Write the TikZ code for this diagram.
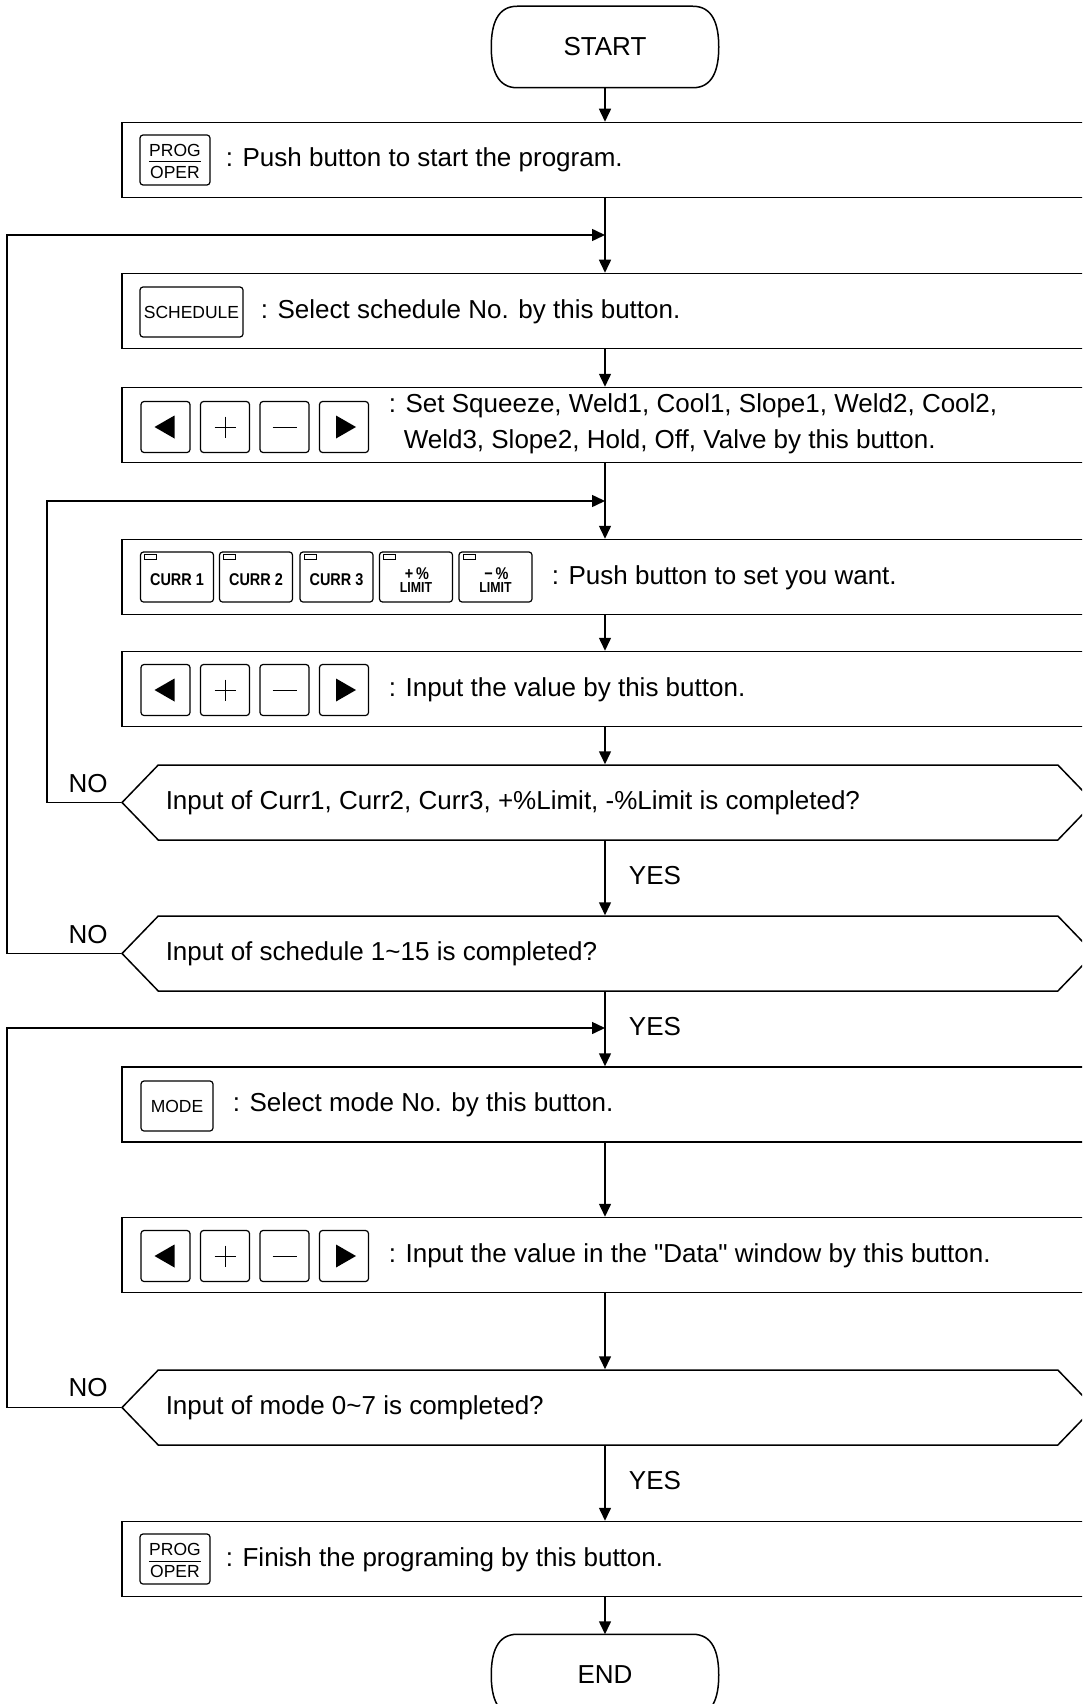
\documentclass[tikz,border=0pt]{standalone}
\usepackage{fontspec}
\setmainfont{Liberation Sans}[Ligatures=TeXOff]
\newfontfamily\narrowfont[FakeStretch=0.85]{Liberation Sans}
\usetikzlibrary{arrows.meta,shapes.symbols,calc}
\newcommand\ArrowKeys[2]{%
  \node[kbtn] (#1a) at (165.5,#2) {};
  \node[kbtn] (#1b) at (225,#2) {};
  \node[kbtn] (#1c) at (284.5,#2) {};
  \node[kbtn] (#1d) at (344,#2) {};
  \fill ([shift={(-11,0)}]#1a.center) -- ([shift={(9,-11.5)}]#1a.center) -- ([shift={(9,11.5)}]#1a.center) -- cycle;
  \draw[thinline] ([shift={(-10.5,0)}]#1b.center) -- ([shift={(10.5,0)}]#1b.center);
  \draw[thinline] ([shift={(0,-10.5)}]#1b.center) -- ([shift={(0,10.5)}]#1b.center);
  \draw[thinline] ([shift={(-12,0)}]#1c.center) -- ([shift={(12,0)}]#1c.center);
  \fill ([shift={(12,0)}]#1d.center) -- ([shift={(-8,-11.5)}]#1d.center) -- ([shift={(-8,11.5)}]#1d.center) -- cycle;
}
\newcommand\ProgKey[2]{%
  \node[btn, minimum width=70pt, minimum height=50pt] (#1) at (175,#2) {};
  \node[keyfont] (#1t) at ([shift={(0,-10)}]#1.center) {PROG};
  \node[keyfont] (#1b) at ([shift={(0,12.5)}]#1.center) {OPER};
  \draw[thinline] ([shift={(-26,2)}]#1.center) -- ([shift={(26,2)}]#1.center);
}
\newcommand\CurrKey[2]{%
  \node[btn, minimum width=73pt, minimum height=50pt] (#1) at (#2,577) {};
  \draw[line width=1pt] ([shift={(5,3)}]#1.north west) rectangle ([shift={(17,8)}]#1.north west);
}
\newcommand\Terminal[1]{%
  \draw (#1.north west) ++(26,0) -- ([shift={(-26,0)}]#1.north east)
    .. controls ([shift={(-6,0)}]#1.north east) and ([shift={(0,18)}]#1.north east) .. (#1.east)
    .. controls ([shift={(0,-18)}]#1.south east) and ([shift={(-6,0)}]#1.south east) .. ([shift={(-26,0)}]#1.south east)
    -- ([shift={(26,0)}]#1.south west)
    .. controls ([shift={(6,0)}]#1.south west) and ([shift={(0,-18)}]#1.south west) .. (#1.west)
    .. controls ([shift={(0,18)}]#1.north west) and ([shift={(6,0)}]#1.north west) .. ([shift={(26,0)}]#1.north west);
}
\begin{document}
\begin{tikzpicture}[x=1pt,y=-1pt,line width=1.5pt,
  box/.style={draw, rectangle, minimum width=1000pt, minimum height=75pt, anchor=west, inner sep=0pt},
  hex/.style={draw, signal, signal to=west and east, signal pointer angle=92, minimum width=972pt, minimum height=75pt, anchor=west, inner sep=0pt},
  term/.style={rectangle, minimum width=226pt, minimum height=80pt, inner sep=0pt, font=\fontsize{26}{31}\selectfont},
  txt/.style={anchor=west, inner sep=0pt, font=\fontsize{26}{31}\selectfont, text height=19pt, text depth=5pt},
  lbl/.style={inner sep=0pt, font=\fontsize{26}{31}\selectfont},
  arr/.style={-{Triangle[length=13pt,width=12pt]}},
  btn/.style={draw, rounded corners=3pt, line width=1.2pt, inner sep=0pt},
  kbtn/.style={btn, minimum width=49pt, minimum height=51pt},
  keyfont/.style={inner sep=0pt, font=\fontsize{17.5}{20}\selectfont},
  currfont/.style={inner sep=0pt, font=\narrowfont\bfseries\fontsize{17}{20}\selectfont},
  limfont/.style={inner sep=0pt, text height=10pt, text depth=0pt, font=\narrowfont\bfseries\fontsize{14.5}{17}\selectfont},
  pctfont/.style={inner sep=0pt, text height=10pt, text depth=0pt, font=\narrowfont\bfseries\fontsize{17}{20}\selectfont},
  thinline/.style={line width=1pt}]
\useasboundingbox (0,0) rectangle (1082,1704);
\clip (0,0) rectangle (1082,1704);
\coordinate (axis) at (605,0);

% terminals
\node[term] (start) at (605,47) {START};
\Terminal{start}
\node[term] (end) at (605,1675) {END};
\Terminal{end}

% box 1
\node[box] (b1) at (121,160) {};
\ProgKey{k1}{160}
\node[txt] (t1) at (225,160) {: Push button to start the program.};

% box 2
\node[box] (b2) at (121,311) {};
\node[btn, minimum width=103pt, minimum height=50pt, font=\fontsize{17.5}{20}\selectfont] (k2) at (191.5,312) {SCHEDULE};
\node[txt] (t2) at (260,311) {: Select schedule No. by this button.};

% box 3
\node[box] (b3) at (121,425) {};
\ArrowKeys{k3}{427}
\node[txt] (t3a) at (388,405) {: Set Squeeze, Weld1, Cool1, Slope1, Weld2, Cool2,};
\node[txt] (t3b) at (403,441) {Weld3, Slope2, Hold, Off, Valve by this button.};

% box 4
\node[box] (b4) at (121,577) {};
\CurrKey{c1}{177}
\CurrKey{c2}{256}
\CurrKey{c3}{336.5}
\CurrKey{c4}{416}
\CurrKey{c5}{495.5}
\node[currfont] (c1t) at ([shift={(0,3)}]c1.center) {CURR 1};
\node[currfont] (c2t) at ([shift={(0,3)}]c2.center) {CURR 2};
\node[currfont] (c3t) at ([shift={(0,3)}]c3.center) {CURR 3};
\node[pctfont] (c4a) at ([shift={(1,-3)}]c4.center) {+\,\%};
\node[limfont] (c4b) at ([shift={(0,10)}]c4.center) {LIMIT};
\node[pctfont] (c5a) at ([shift={(1,-3)}]c5.center) {−\,\%};
\node[limfont] (c5b) at ([shift={(0,10)}]c5.center) {LIMIT};
\node[txt] (t4) at (551,577) {: Push button to set you want.};

% box 5
\node[box] (b5) at (121,689) {};
\ArrowKeys{k5}{690}
\node[txt] (t5) at (388,689) {: Input the value by this button.};

% hex 1
\node[hex] (h1) at (121,802.5) {};
\node[txt] (th1) at (165,802.5) {Input of Curr1, Curr2, Curr3, +\%Limit, -\%Limit is completed?};

% hex 2
\node[hex] (h2) at (121,953.5) {};
\node[txt] (th2) at (165,953.5) {Input of schedule 1\char`~15 is completed?};

% box 6
\node[box] (b6) at (121,1104.5) {};
\node[btn, minimum width=72pt, minimum height=50pt, font=\fontsize{17.5}{20}\selectfont] (k6) at (177,1106) {MODE};
\node[txt] (t6) at (232,1104.5) {: Select mode No. by this button.};

% box 7
\node[box] (b7) at (121,1255) {};
\ArrowKeys{k7}{1256}
\node[txt] (t7) at (388,1255) {: Input the value in the "Data" window by this button.};

% hex 3
\node[hex] (h3) at (121,1407.5) {};
\node[txt] (th3) at (165,1407.5) {Input of mode 0\char`~7 is completed?};

% box 8
\node[box] (b8) at (121,1559) {};
\ProgKey{k8}{1559}
\node[txt] (t8) at (225,1559) {: Finish the programing by this button.};

% labels
\node[lbl] (no1) at (88,784) {NO};
\node[lbl] (no2) at (88,935) {NO};
\node[lbl] (no3) at (88,1388) {NO};
\node[lbl] (yes1) at (655,876) {YES};
\node[lbl] (yes2) at (655,1027) {YES};
\node[lbl] (yes3) at (655,1481) {YES};

% junctions
\coordinate (j1) at (605,235);
\coordinate (j2) at (605,501);
\coordinate (j3) at (605,1028);

% main flow
\draw[arr] (start.south) -- (start.south |- b1.north);
\draw[arr] (b1.south -| axis) -- (b2.north -| axis);
\draw[arr] (b2.south -| axis) -- (b3.north -| axis);
\draw[arr] (b3.south -| axis) -- (b4.north -| axis);
\draw[arr] (b4.south -| axis) -- (b5.north -| axis);
\draw[arr] (b5.south -| axis) -- (h1.north -| axis);
\draw[arr] (h1.south -| axis) -- (h2.north -| axis);
\draw[arr] (h2.south -| axis) -- (b6.north -| axis);
\draw[arr] (b6.south -| axis) -- (b7.north -| axis);
\draw[arr] (b7.south -| axis) -- (h3.north -| axis);
\draw[arr] (h3.south -| axis) -- (b8.north -| axis);
\draw[arr] (b8.south -| axis) -- (end.north);

% loops
\draw[arr] (h1.west) -- (47,802.5) -- (47,501) -- (j2);
\draw[arr] (h2.west) -- (7,953.5) -- (7,235) -- (j1);
\draw[arr] (h3.west) -- (7,1407.5) -- (7,1028) -- (j3);
\end{tikzpicture}
\end{document}
